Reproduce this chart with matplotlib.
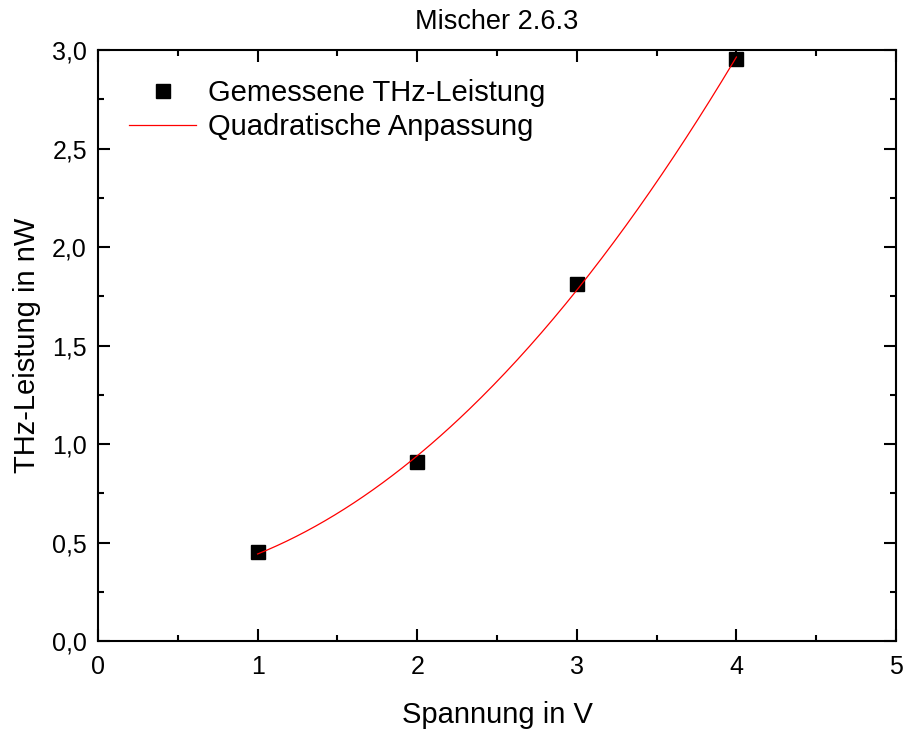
import numpy as np
import matplotlib
matplotlib.use("Agg")
import matplotlib.pyplot as plt
from matplotlib.ticker import FuncFormatter, MultipleLocator

plt.rcParams['font.family'] = ['Liberation Sans', 'DejaVu Sans']

# measured data
spannung = np.array([1, 2, 3, 4])
leistung = np.array([0.452, 0.909, 1.812, 2.954])

# quadratic fit of the measured data
coef = np.polyfit(spannung, leistung, 2)
x_fit = np.linspace(spannung.min(), spannung.max(), 200)
y_fit = np.polyval(coef, x_fit)

fig = plt.figure(figsize=(9.09, 7.29), dpi=100)
ax = fig.add_axes([0.1078, 0.1207, 0.8779, 0.8107])

ax.plot(spannung, leistung, 's', color='black', markersize=10,
        label='Gemessene THz-Leistung', zorder=2)
ax.plot(x_fit, y_fit, '-', color='red', lw=0.9,
        label='Quadratische Anpassung', zorder=3)

ax.set_xlim(0, 5)
ax.set_ylim(0, 3)
ax.xaxis.set_major_locator(MultipleLocator(1))
ax.xaxis.set_minor_locator(MultipleLocator(0.5))
ax.yaxis.set_major_locator(MultipleLocator(0.5))
ax.yaxis.set_minor_locator(MultipleLocator(0.25))
ax.yaxis.set_major_formatter(FuncFormatter(lambda v, p: f"{v:.1f}".replace('.', ',')))

ax.tick_params(which='both', direction='in', top=True, right=True,
               width=1.5, labelsize=18)
ax.tick_params(which='major', length=8.5, pad=8)
ax.tick_params(axis='x', which='major', pad=10)
ax.tick_params(which='minor', length=4.5)
for s in ax.spines.values():
    s.set_linewidth(1.5)

ax.set_title("Mischer 2.6.3", fontsize=19.5, pad=15)
ax.set_xlabel("Spannung in V", fontsize=21, labelpad=16)
ax.set_ylabel("THz-Leistung in nW", fontsize=21, labelpad=8)

ax.legend(loc='upper left', frameon=False, fontsize=21,
          bbox_to_anchor=(0.006, 0.995), handlelength=2.3,
          handletextpad=0.4, labelspacing=0.2, markerscale=0.95)

fig.savefig("out.png", dpi=100)
